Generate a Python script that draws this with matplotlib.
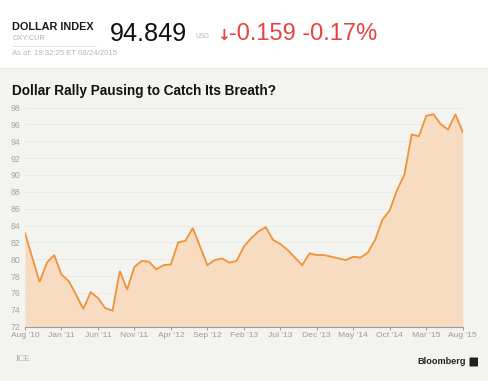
import matplotlib
matplotlib.use("Agg")
import matplotlib.pyplot as plt
import numpy as np
from matplotlib.patches import Rectangle, FancyBboxPatch

W, H = 488, 381

# ---- data (monthly, Aug 2010 .. Aug 2015) ----
values = [83.1, 80.2, 77.3, 79.6, 80.5, 78.2, 77.4, 75.8, 74.1, 76.1,
          75.4, 74.2, 73.9, 78.6, 76.4, 79.1, 79.8, 79.7, 78.8, 79.3,
          79.4, 82.0, 82.2, 83.7, 81.5, 79.3, 79.9, 80.1, 79.6, 79.8,
          81.5, 82.5, 83.3, 83.8, 82.3, 81.8, 81.1, 80.2, 79.3, 80.7,
          80.5, 80.5, 80.3, 80.1, 79.9, 80.3, 80.2, 80.8, 82.3, 84.7,
          85.8, 88.2, 90.0, 94.8, 94.6, 97.0, 97.2, 96.0, 95.4, 97.2,
          95.1]
tick_labels = ["Aug '10", "Jan '11", "Jun '11", "Nov '11", "Apr '12", "Sep '12",
               "Feb '13", "Jul '13", "Dec '13", "May '14", "Oct '14", "Mar '15",
               "Aug '15"]
y_ticks = list(range(72, 100, 2))

BG = "#f3f3ef"
LINE = "#f0923a"
FILL = "#f7dcc1"
GRAY = "#9b9b9b"

def fx(x):
    return x / W

def fy(y):
    return 1 - y / H

fig = plt.figure(figsize=(W / 100, H / 100), dpi=100)
fig.patch.set_facecolor(BG)

# white header band
fig.patches.append(Rectangle((0, fy(68)), 1, 1 - fy(68), transform=fig.transFigure,
                             facecolor="white", edgecolor="none", zorder=0))
fig.lines.append(plt.Line2D([0, 1], [fy(68), fy(68)], transform=fig.transFigure,
                            color="#e6e6e2", lw=0.6))

SANS = ["Liberation Sans", "DejaVu Sans"]

fig.text(fx(12.5), fy(29.5), "DOLLAR INDEX", fontsize=7.8, fontweight="bold",
         family=SANS, color="#1a1a1a", va="baseline")
fig.text(fx(12.5), fy(39.5), "DXY:CUR", fontsize=5.3, family=SANS,
         color="#b5b5b5", va="baseline")
fig.lines.append(plt.Line2D([fx(12), fx(96)], [fy(46), fy(46)], transform=fig.transFigure,
                            color="#e2e2e2", lw=0.6))
fig.text(fx(12.5), fy(55.3), "As of: 19:32:25 ET 08/24/2015", fontsize=5.6,
         family=SANS, color="#b5b5b5", va="baseline")
fig.text(fx(109.5), fy(40.7), "94.849", fontsize=18.2, family=SANS,
         color="#111111", va="baseline")
fig.text(fx(195), fy(37.7), "USD", fontsize=4.8, family=SANS,
         color="#b5b5b5", va="baseline")
fig.text(fx(217), fy(40), "\u2193", fontsize=11, fontweight="bold", family=["DejaVu Sans"],
         color="#e8443f", va="baseline")
fig.text(fx(229), fy(40.5), "-0.159 -0.17%", fontsize=17.0, family=SANS,
         color="#e8443f", va="baseline")

# title
fig.text(fx(12.5), fy(95), "Dollar Rally Pausing to Catch Its Breath?", fontsize=9.85,
         fontweight="bold", family=SANS, color="#111111", va="baseline")

# axes
x0, x1 = 25, 462.7
ytop, ybot = 107.5, 326.7
ax = fig.add_axes([fx(x0), fy(ybot), (x1 - x0) / W, (ybot - ytop) / H])
ax.set_facecolor("none")
x = np.arange(len(values))
ax.fill_between(x, values, 72, color=FILL, lw=0, zorder=2)
ax.plot(x, values, color=LINE, lw=1.3, zorder=3, solid_joinstyle="miter")
ax.set_xlim(0, len(values) - 1)
ax.set_ylim(72, 98)
ax.set_yticks(y_ticks)
ax.set_yticklabels([str(v) for v in y_ticks])
ax.set_xticks(np.arange(0, len(values), 5))
ax.set_xticklabels(tick_labels)
for yv in y_ticks[1:]:
    ax.axhline(yv, color="#e9e9e4", lw=0.6, zorder=1, xmin=-0.003)
for s in ["top", "right", "left"]:
    ax.spines[s].set_visible(False)
ax.spines["bottom"].set_color(GRAY)
ax.spines["bottom"].set_linewidth(0.8)
ax.spines["bottom"].set_zorder(4)
ax.tick_params(axis="y", length=0, pad=3.5, labelsize=6.3, labelcolor="#a5a5a5")
ax.tick_params(axis="x", length=2.5, width=0.7, color=GRAY, pad=1.5, labelsize=6.1,
               labelcolor="#9c9c9c")
for lab in ax.get_xticklabels() + ax.get_yticklabels():
    lab.set_family(SANS)

# footer
fig.text(fx(16), fy(361), "ICE", fontsize=6.4, family=["Liberation Serif", "DejaVu Serif"],
         color="#a0a0a0", va="baseline")
fig.text(fx(466), fy(364.5), "Bloomberg", fontsize=6.6, fontweight="bold", family=SANS,
         color="#222222", va="baseline", ha="right")
fig.patches.append(FancyBboxPatch((fx(469.5), fy(366.5)), (478 - 469.5) / W, (366.5 - 357.5) / H,
                                  boxstyle="round,pad=0,rounding_size=0.002",
                                  transform=fig.transFigure, facecolor="#222222",
                                  edgecolor="none"))

fig.savefig("out.png", dpi=100, facecolor=fig.get_facecolor())
